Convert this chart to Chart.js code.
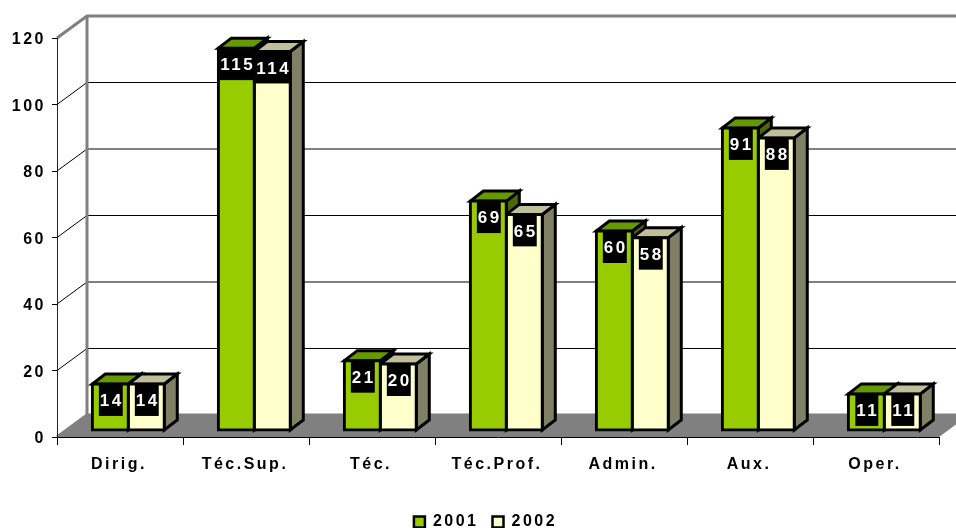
<!DOCTYPE html>
<html>
<head>
<meta charset="utf-8">
<style>html,body{margin:0;padding:0;background:#fff}canvas{display:block}</style>
<script src="https://cdn.jsdelivr.net/npm/chart.js@4/dist/chart.umd.js"></script>
</head>
<body>
<canvas id="c" width="956" height="528"></canvas>
<script>
const categories = ['Dirig.', 'Téc.Sup.', 'Téc.', 'Téc.Prof.', 'Admin.', 'Aux.', 'Oper.'];
const values2001 = [14, 115, 21, 69, 60, 91, 11];
const values2002 = [14, 114, 20, 65, 58, 88, 11];
const seriesNames = ['2001', '2002'];

const FONT = '"Liberation Sans", Arial, sans-serif';
const GREY = '#808080';
const WALL = {dx: 30, dy: -22};
const BAR_SHIFT = {dx: 8.3, dy: -6.5};
const DEPTH = {dx: 13, dy: -10};
const SHADES = [
  {top: '#669900', side: '#4d6600'},
  {top: '#bfbf99', side: '#808066'}
];

const spacing = c => { c.ctx.letterSpacing = '2.5px'; };

const threeD = {
  id: 'threeD',
  beforeUpdate: spacing,
  beforeLayout: spacing,
  afterLayout(chart) {
    chart.legend.left += 16;
    chart.legend.right += 16;
  },
  beforeDraw(chart) {
    spacing(chart);
    const {ctx, chartArea: a, scales: {y}} = chart;
    ctx.save();
    ctx.fillStyle = '#fff';
    ctx.fillRect(0, 0, chart.width, chart.height);
    const y0 = y.getPixelForValue(0);
    const x1 = a.left + WALL.dx, farR = a.right + WALL.dx;
    ctx.fillStyle = GREY;
    ctx.beginPath();
    ctx.moveTo(a.left, y0);
    ctx.lineTo(x1, y0 + WALL.dy);
    ctx.lineTo(farR, y0 + WALL.dy);
    ctx.lineTo(a.right, y0);
    ctx.closePath();
    ctx.fill();
    y.ticks.forEach(t => {
      const py = y.getPixelForValue(t.value);
      const edge = t.value === 0 || t.value === y.max;
      ctx.strokeStyle = edge ? GREY : '#000';
      ctx.lineWidth = edge ? 3 : 1;
      ctx.beginPath();
      ctx.moveTo(a.left, py);
      ctx.lineTo(x1, py + WALL.dy);
      ctx.lineTo(farR, py + WALL.dy);
      ctx.stroke();
    });
    ctx.strokeStyle = GREY;
    ctx.lineWidth = 3;
    ctx.beginPath();
    ctx.moveTo(x1, y.getPixelForValue(y.max) + WALL.dy);
    ctx.lineTo(x1, y0 + WALL.dy);
    ctx.stroke();
    ctx.restore();
  },
  beforeDatasetsDraw(chart) {
    const {ctx} = chart;
    ctx.save();
    ctx.translate(BAR_SHIFT.dx, BAR_SHIFT.dy);
    ctx.lineWidth = 3;
    ctx.lineJoin = 'miter';
    ctx.strokeStyle = '#000';
    [0, 1].forEach(i => {
      const shade = SHADES[i];
      chart.getDatasetMeta(i).data.forEach(el => {
        const l = el.x - el.width / 2, r = el.x + el.width / 2;
        const t = el.y, b = el.base;
        ctx.fillStyle = shade.side;
        ctx.beginPath();
        ctx.moveTo(r, t);
        ctx.lineTo(r + DEPTH.dx, t + DEPTH.dy);
        ctx.lineTo(r + DEPTH.dx, b + DEPTH.dy);
        ctx.lineTo(r, b);
        ctx.closePath();
        ctx.fill();
        ctx.stroke();
        ctx.fillStyle = shade.top;
        ctx.beginPath();
        ctx.moveTo(l, t);
        ctx.lineTo(l + DEPTH.dx, t + DEPTH.dy);
        ctx.lineTo(r + DEPTH.dx, t + DEPTH.dy);
        ctx.lineTo(r, t);
        ctx.closePath();
        ctx.fill();
        ctx.stroke();
      });
    });
    ctx.restore();
  },
  beforeDatasetDraw(chart) {
    chart.ctx.save();
    chart.ctx.translate(BAR_SHIFT.dx, BAR_SHIFT.dy);
  },
  afterDatasetDraw(chart) {
    chart.ctx.restore();
  },
  afterDatasetsDraw(chart) {
    const {ctx} = chart;
    ctx.save();
    ctx.translate(BAR_SHIFT.dx, BAR_SHIFT.dy);
    ctx.font = 'bold 17px ' + FONT;
    ctx.letterSpacing = '2.5px';
    ctx.textAlign = 'left';
    ctx.textBaseline = 'middle';
    chart.data.datasets.forEach((ds, i) => {
      chart.getDatasetMeta(i).data.forEach((el, j) => {
        const txt = String(ds.data[j]);
        const w = ctx.measureText(txt).width;
        const bw = w, bh = 31;
        const bx = el.x - bw / 2 + 0.5, by = el.y + 1;
        ctx.fillStyle = '#000';
        ctx.fillRect(bx, by, bw, bh);
        ctx.fillStyle = '#fff';
        ctx.fillText(txt, bx + 1, by + bh / 2 + 1);
      });
    });
    ctx.restore();
  }
};

new Chart(document.getElementById('c'), {
  type: 'bar',
  data: {
    labels: categories,
    datasets: [
      {label: seriesNames[0], data: values2001, backgroundColor: '#99cc00', borderColor: '#000',
       borderWidth: 3, borderSkipped: false, inflateAmount: 1.5, clip: false},
      {label: seriesNames[1], data: values2002, backgroundColor: '#ffffcc', borderColor: '#000',
       borderWidth: 3, borderSkipped: false, inflateAmount: 1.5, clip: false}
    ]
  },
  options: {
    responsive: false,
    animation: false,
    events: [],
    categoryPercentage: 0.571,
    barPercentage: 1,
    layout: {padding: {left: 0, right: 17, top: 38, bottom: -12}},
    scales: {
      x: {
        grid: {drawOnChartArea: false, drawTicks: true, tickLength: 8, color: '#000'},
        border: {color: '#000', width: 1},
        ticks: {color: '#000', padding: 10, labelOffset: -1, maxRotation: 0, font: {family: FONT, weight: 'bold', size: 16}},
        afterFit(s) { s.height = 63; }
      },
      y: {
        min: 0, max: 120,
        grid: {drawOnChartArea: false, drawTicks: true, tickLength: 5, color: '#000'},
        border: {color: '#222', width: 1},
        ticks: {stepSize: 20, color: '#000', padding: 6, labelOffset: 2, font: {family: FONT, weight: 'bold', size: 16}},
        afterFit(s) { s.width = 57; }
      }
    },
    plugins: {
      tooltip: {enabled: false},
      legend: {
        position: 'bottom',
        labels: {
          boxWidth: 11, boxHeight: 11, padding: 14, color: '#000',
          font: {family: FONT, weight: 'bold', size: 16},
          generateLabels(chart) {
            return Chart.defaults.plugins.legend.labels.generateLabels(chart)
              .map(item => Object.assign(item, {lineWidth: 2.5}));
          }
        }
      }
    }
  },
  plugins: [threeD]
});
</script>
</body>
</html>
